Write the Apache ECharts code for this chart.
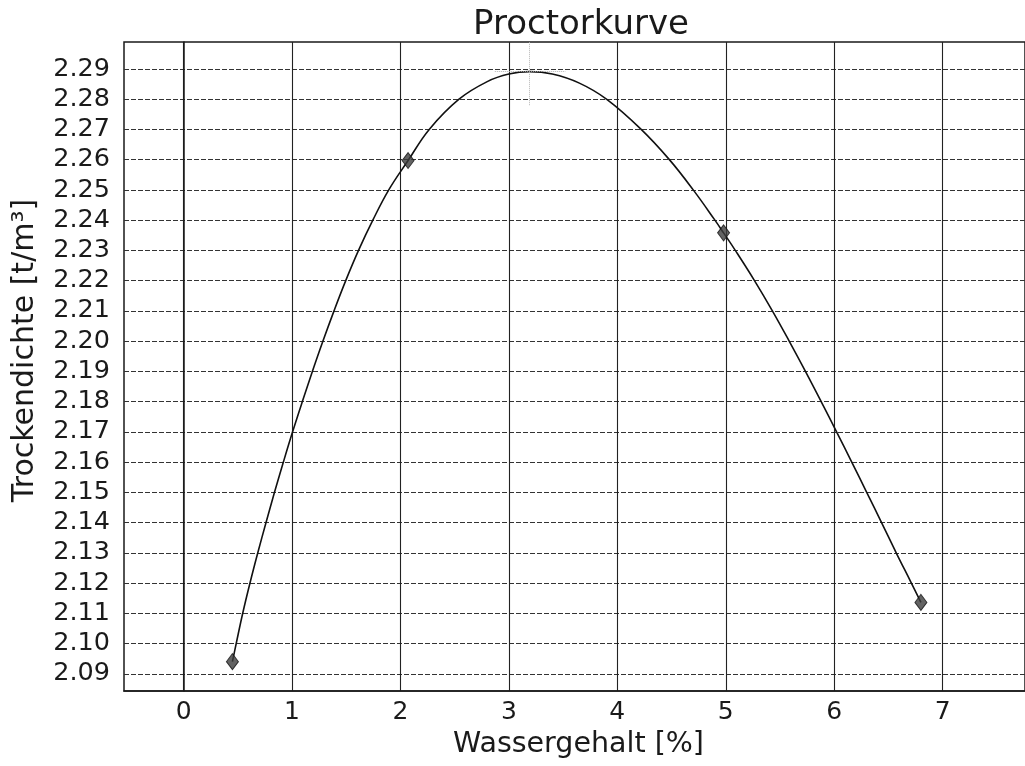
<!DOCTYPE html>
<html>
<head>
<meta charset="utf-8">
<script src="https://cdn.jsdelivr.net/npm/echarts@6/dist/echarts.min.js"></script>
<style>
html,body{margin:0;padding:0;background:#fff;}
#chart{width:1025px;height:766px;}
</style>
</head>
<body>
<div id="chart"></div>
<script>
// Measured points (Wassergehalt %, Trockendichte t/m³)
const waterContent = [0.45, 2.07, 4.98, 6.80];
const dryDensity = [2.094, 2.2597, 2.2358, 2.1136];

// Fitted Proctor curve
const curveX = [0.45, 0.485, 0.545, 0.612, 0.684, 0.760, 0.838, 0.920, 1.005, 1.095, 1.188, 1.285, 1.387, 1.495, 1.613, 1.745, 1.892, 2.07, 2.265, 2.54, 2.80, 3.00, 3.19, 3.40, 3.65, 3.90, 4.22, 4.48, 4.70, 4.90, 4.98, 5.088, 5.265, 5.43, 5.585, 5.735, 5.88, 6.022, 6.162, 6.30, 6.437, 6.572, 6.712, 6.80];
const curveY = [2.094, 2.10, 2.11, 2.12, 2.13, 2.14, 2.15, 2.16, 2.17, 2.18, 2.19, 2.20, 2.21, 2.22, 2.23, 2.24, 2.25, 2.2597, 2.27, 2.28, 2.2858, 2.2883, 2.2891, 2.2883, 2.2853, 2.28, 2.27, 2.26, 2.25, 2.24, 2.2358, 2.23, 2.22, 2.21, 2.20, 2.19, 2.18, 2.17, 2.16, 2.15, 2.14, 2.13, 2.12, 2.1136];

// Proctor optimum marker (crosshair)
const peakX = [2.87, 3.19, 3.52];   // left end, centre, right end
const peakY = [2.278, 2.2891];       // lower end of vertical, level

// Axis ranges and ticks
const xRange = [-0.55, 7.76];
const yRange = [2.0843, 2.2989];
const xTicks = [0, 1, 2, 3, 4, 5, 6, 7];
const yTicks = [2.09, 2.10, 2.11, 2.12, 2.13, 2.14, 2.15, 2.16, 2.17, 2.18, 2.19, 2.20, 2.21, 2.22, 2.23, 2.24, 2.25, 2.26, 2.27, 2.28, 2.29];

const titleText = 'Proctorkurve';
const xName = 'Wassergehalt [%]';
const yName = 'Trockendichte [t/m³]';

const FONT = 'DejaVu Sans';
const chart = echarts.init(document.getElementById('chart'), null, {renderer: 'canvas'});

const curveData = curveX.map((x, i) => [x, curveY[i]]);
const pointData = waterContent.map((x, i) => [x, dryDensity[i]]);

chart.setOption({
  animation: false,
  backgroundColor: '#ffffff',
  title: {
    text: titleText,
    left: 576,
    top: 3,
    textAlign: 'center',
    textStyle: {fontFamily: FONT, fontSize: 34, fontWeight: 'normal', color: '#1a1a1a'}
  },
  grid: {
    left: 124, top: 42, bottom: 75, right: -3,
    show: true, borderColor: '#1a1a1a', borderWidth: 1.5, backgroundColor: 'transparent'
  },
  xAxis: {
    type: 'value',
    min: xRange[0], max: xRange[1],
    name: xName,
    nameLocation: 'middle',
    nameGap: 39,
    nameTextStyle: {fontFamily: FONT, fontSize: 28.5, color: '#1a1a1a', padding: [0, 0, 0, 8]},
    axisLine: {show: true, lineStyle: {color: '#1a1a1a', width: 1.5}},
    axisTick: {show: false, customValues: xTicks},
    axisLabel: {
      customValues: xTicks,
      fontFamily: FONT, fontSize: 25, color: '#1a1a1a', margin: 9,
      formatter: v => String(Math.round(v))
    },
    splitLine: {show: true, lineStyle: {color: '#222', width: 1.1, type: 'solid'}}
  },
  yAxis: {
    type: 'value',
    min: yRange[0], max: yRange[1],
    name: yName,
    nameLocation: 'middle',
    nameGap: 84,
    nameTextStyle: {fontFamily: FONT, fontSize: 30, color: '#1a1a1a', padding: [0, 0, 0, 32]},
    axisLine: {show: true, lineStyle: {color: '#1a1a1a', width: 1.5}},
    axisTick: {show: false, customValues: yTicks},
    axisLabel: {
      customValues: yTicks,
      fontFamily: FONT, fontSize: 25.5, color: '#1a1a1a', margin: 14,
      formatter: v => v.toFixed(2)
    },
    splitLine: {show: true, lineStyle: {color: '#333', width: 1.1, type: [5, 2]}}
  },
  series: [
    {
      name: 'Kurve',
      type: 'line',
      data: curveData,
      smooth: 0.4,
      showSymbol: false,
      symbol: 'none',
      lineStyle: {color: '#111', width: 1.6},
      z: 3,
      silent: true,
      markLine: {
        silent: true,
        symbol: 'none',
        label: {show: false},
        lineStyle: {color: '#b5b5b5', width: 1, type: 'dotted'},
        data: [
          [{coord: [peakX[1], peakY[0]]}, {coord: [peakX[1], yRange[1]]}],
          [{coord: [peakX[0], peakY[1]]}, {coord: [peakX[2], peakY[1]]}]
        ]
      }
    },
    {
      name: 'Messwerte',
      type: 'scatter',
      data: pointData,
      symbol: 'diamond',
      symbolSize: [12, 16],
      itemStyle: {color: '#3c3c3c', borderColor: '#111', borderWidth: 1},
      z: 5
    }
  ]
});
</script>
</body>
</html>
